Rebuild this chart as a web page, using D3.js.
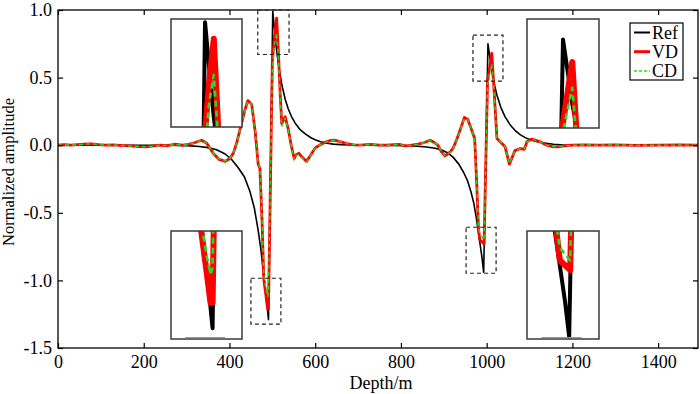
<!DOCTYPE html>
<html>
<head>
<meta charset="utf-8">
<script src="https://cdn.jsdelivr.net/npm/d3@7"></script>
<style>
  body { margin: 0; background: #fff; }
  svg { display: block; }
</style>
</head>
<body>
<script>
// Reference (Ref) trace
const refDepth = [0, 100, 200, 260, 300, 330, 350, 370, 390, 405, 420, 435, 448, 458, 467, 474, 480, 486, 491,
  501, 505, 510, 516, 522, 530, 537, 545, 553, 565, 576, 590, 600, 611, 621, 642, 660, 690, 720,
  780, 830, 860, 880, 895, 910, 922, 935, 946, 955, 963, 970, 976, 980, 985, 989, 993,
  1003, 1008, 1012, 1018, 1024, 1033, 1043, 1055, 1066, 1078, 1090, 1100, 1113, 1130, 1156, 1180, 1220, 1300, 1400, 1493];
const refAmp = [0, 0, 0, 0, -0.003, -0.01, -0.018, -0.033, -0.065, -0.105, -0.165, -0.235, -0.345, -0.465, -0.63, -0.79, -0.97, -1.13, -1.29,
  0.99, 0.86, 0.70, 0.56, 0.45, 0.34, 0.27, 0.21, 0.165, 0.115, 0.085, 0.055, 0.04, 0.027, 0.018, 0.008, 0.004, 0.001, 0,
  -0.002, -0.006, -0.013, -0.022, -0.035, -0.058, -0.09, -0.14, -0.2, -0.26, -0.34, -0.43, -0.54, -0.63, -0.74, -0.83, -0.94,
  0.75, 0.64, 0.55, 0.45, 0.37, 0.28, 0.21, 0.15, 0.11, 0.078, 0.056, 0.043, 0.03, 0.018, 0.007, 0.002, 0, 0, 0, 0];

// VD and CD traces share the same depth samples
const vdDepth = [0, 15, 30, 45, 62, 78, 95, 112, 130, 150, 170, 190, 205, 220, 238, 255, 272, 290, 305, 320, 335, 347,
  362, 376, 390, 400, 409, 418, 428, 436, 443, 452, 460, 467, 471, 476, 480, 485, 489, 491,
  500, 505, 510, 514, 518, 522, 530, 537, 544, 551, 556, 562, 570, 580, 590, 600, 610, 621, 635, 645, 660, 674, 690,
  705, 720, 735, 750, 767, 785, 798, 812, 825, 840, 855, 868, 878, 886, 895, 903, 915, 922, 930, 940, 948, 956, 963, 972,
  977, 981, 984, 994, 1002, 1012, 1016, 1024, 1035, 1043, 1053, 1066, 1078, 1088, 1094, 1105, 1113, 1125, 1140, 1156,
  1170, 1185, 1200, 1230, 1260, 1300, 1350, 1400, 1450, 1493];
const vdAmp = [0, 0.004, 0, 0.004, 0.008, 0.010, 0.004, 0, 0.003, -0.003, -0.005, -0.010, -0.012, -0.007, 0, -0.004, 0.007, 0, 0.006, 0.020, 0.037, 0.015,
  -0.060, -0.105, -0.120, -0.100, -0.060, 0.030, 0.160, 0.260, 0.330, 0.300, 0.100, -0.140, -0.170, -0.560, -0.990, -1.110, -1.210, -1.210,
  0.620, 0.800, 0.940, 0.700, 0.400, 0.160, 0.210, 0.120, 0, -0.100, -0.070, -0.060, -0.090, -0.120, -0.070, -0.020, 0, 0.020, 0.035, 0.037, 0.025, 0.012, 0.003,
  0, 0.004, 0.005, 0, 0, 0.004, 0.005, -0.005, 0, 0.008, 0.020, 0.037, 0.020, 0, -0.050, -0.080, -0.050, -0.020, 0.040, 0.130, 0.205, 0.190, 0.130, 0.050,
  -0.300, -0.620, -0.700, -0.730, 0.470, 0.680, 0.470, 0.050, 0.015, -0.012, -0.140, -0.040, -0.025, -0.030, 0.025, 0.045, 0.037, 0.025, 0, -0.012,
  -0.010, -0.003, 0, 0.003, 0, 0.002, -0.002, 0, 0.002, 0];
const cdAmp = [0, 0.003, 0.001, 0.004, 0.007, 0.010, 0.005, 0, 0.002, -0.003, -0.006, -0.009, -0.012, -0.008, 0, -0.003, 0.006, 0, 0.005, 0.019, 0.035, 0.014,
  -0.058, -0.103, -0.118, -0.100, -0.062, 0.028, 0.155, 0.255, 0.325, 0.300, 0.105, -0.135, -0.165, -0.540, -0.960, -1.060, -1.120, -1.100,
  0.560, 0.740, 0.830, 0.660, 0.380, 0.140, 0.200, 0.115, -0.005, -0.110, -0.075, -0.070, -0.095, -0.125, -0.072, -0.022, 0, 0.018, 0.034, 0.037, 0.026, 0.012, 0.004,
  0, 0.003, 0.005, 0.001, 0, 0.003, 0.005, -0.004, 0, 0.007, 0.019, 0.035, 0.021, 0.002, -0.048, -0.078, -0.052, -0.020, 0.038, 0.125, 0.200, 0.188, 0.128, 0.048,
  -0.290, -0.600, -0.660, -0.700, 0.450, 0.600, 0.450, 0.055, 0.016, -0.010, -0.135, -0.042, -0.026, -0.028, 0.022, 0.042, 0.036, 0.024, 0.001, -0.010,
  -0.009, -0.003, 0, 0.002, 0, 0.002, -0.001, 0, 0.001, 0];

const xTicks = [0, 200, 400, 600, 800, 1000, 1200, 1400];
const yTicks = [-1.5, -1.0, -0.5, 0.0, 0.5, 1.0];

// zoom windows: [depth0, depth1, amp0, amp1] and the inset box they are blown up into
const zoomWindows = [
  { win: [466, 539, 0.671, 1.0],    box: [171, 19, 242, 127] },
  { win: [968, 1038, 0.474, 0.814], box: [527, 19, 599, 128] },
  { win: [450, 520, -1.324, -0.984], box: [171, 231, 242, 339] },
  { win: [952, 1022, -0.947, -0.607], box: [527, 231, 599, 339] }
];

const series = [
  { name: "Ref", pts: refDepth.map((d, i) => [d, refAmp[i]]), color: "#000", w: 1.6, dash: null, wi: 4, dashi: null },
  { name: "VD", pts: vdDepth.map((d, i) => [d, vdAmp[i]]), color: "#ff0000", w: 2.8, dash: null, wi: 6, dashi: null },
  { name: "CD", pts: vdDepth.map((d, i) => [d, cdAmp[i]]), color: "#22dd22", w: 1.4, dash: "4,3", wi: 2.6, dashi: "6,4" }
];

const W = 700, H = 394;
const pL = 58, pR = 698, pT = 10, pB = 348;
const font = "'Liberation Serif', 'Times New Roman', serif";

const svg = d3.select("body").append("svg").attr("width", W).attr("height", H);

const x = d3.scaleLinear().domain([0, 1493]).range([pL, pR]);
const y = d3.scaleLinear().domain([-1.5, 1.0]).range([pB, pT]);

const defs = svg.append("defs");
defs.append("clipPath").attr("id", "plotclip")
  .append("rect").attr("x", pL).attr("y", pT).attr("width", pR - pL).attr("height", pB - pT);

// main curves
const line = d3.line().x(d => x(d[0])).y(d => y(d[1]));
const curves = svg.append("g").attr("clip-path", "url(#plotclip)");
series.forEach(s => {
  curves.append("path")
    .attr("d", line(s.pts))
    .attr("fill", "none")
    .attr("stroke", s.color)
    .attr("stroke-width", s.w)
    .attr("stroke-linejoin", "round")
    .attr("stroke-dasharray", s.dash);
});

// axes with inward ticks on all sides
function styleAxis(g) {
  g.attr("font-family", font).attr("font-size", 18);
  g.select(".domain").remove();
  g.selectAll("line").attr("stroke", "#000").attr("stroke-width", 1.2);
  g.selectAll("text").attr("fill", "#000");
}
svg.append("g").attr("transform", `translate(0,${pB})`)
  .call(d3.axisBottom(x).tickValues(xTicks).tickSizeInner(-5).tickSizeOuter(0).tickPadding(7).tickFormat(d3.format("d")))
  .call(styleAxis);
svg.append("g").attr("transform", `translate(0,${pT})`)
  .call(d3.axisTop(x).tickValues(xTicks).tickSizeInner(-5).tickSizeOuter(0).tickFormat(""))
  .call(styleAxis);
svg.append("g").attr("transform", `translate(${pL},0)`)
  .call(d3.axisLeft(y).tickValues(yTicks).tickSizeInner(-5).tickSizeOuter(0).tickPadding(6).tickFormat(d => d.toFixed(1)))
  .call(styleAxis);
svg.append("g").attr("transform", `translate(${pR},0)`)
  .call(d3.axisRight(y).tickValues(yTicks).tickSizeInner(-5).tickSizeOuter(0).tickFormat(""))
  .call(styleAxis);

svg.append("rect")
  .attr("x", pL).attr("y", pT).attr("width", pR - pL).attr("height", pB - pT)
  .attr("fill", "none").attr("stroke", "#000").attr("stroke-width", 1.3);

// axis titles
svg.append("text")
  .attr("x", 381).attr("y", 389)
  .attr("text-anchor", "middle")
  .attr("font-family", font).attr("font-size", 18)
  .text("Depth/m");
svg.append("text")
  .attr("transform", "translate(14,172) rotate(-90)")
  .attr("text-anchor", "middle")
  .attr("font-family", font).attr("font-size", 16.5)
  .text("Normalized amplitude");

// dashed zoom windows and their insets
zoomWindows.forEach((z, i) => {
  const [d0, d1, a0, a1] = z.win;
  svg.append("rect")
    .attr("x", x(d0)).attr("y", y(a1))
    .attr("width", x(d1) - x(d0)).attr("height", y(a0) - y(a1))
    .attr("fill", "none").attr("stroke", "#222").attr("stroke-width", 1.2)
    .attr("stroke-dasharray", "4,3");

  const [bx0, by0, bx1, by1] = z.box;
  const xi = d3.scaleLinear().domain([d0, d1]).range([bx0, bx1]);
  const yi = d3.scaleLinear().domain([a0, a1]).range([by1, by0]);
  const id = "inset" + i;
  defs.append("clipPath").attr("id", id)
    .append("rect").attr("x", bx0).attr("y", by0).attr("width", bx1 - bx0).attr("height", by1 - by0);

  svg.append("rect")
    .attr("x", bx0).attr("y", by0).attr("width", bx1 - bx0).attr("height", by1 - by0)
    .attr("fill", "#fff");

  const li = d3.line().x(d => xi(d[0])).y(d => yi(d[1]));
  const gi = svg.append("g").attr("clip-path", `url(#${id})`);
  series.forEach(s => {
    gi.append("path")
      .attr("d", li(s.pts))
      .attr("fill", "none")
      .attr("stroke", s.color)
      .attr("stroke-width", s.wi)
      .attr("stroke-linejoin", "round")
      .attr("stroke-dasharray", s.dashi);
  });

  // faint baseline seen along the bottom of the lower insets
  if (a1 < 0) {
    svg.append("line")
      .attr("x1", bx0 + (bx1 - bx0) * 0.2).attr("x2", bx0 + (bx1 - bx0) * 0.76)
      .attr("y1", by1 - 1.5).attr("y2", by1 - 1.5)
      .attr("stroke", "#999").attr("stroke-width", 1);
  }

  svg.append("rect")
    .attr("x", bx0).attr("y", by0).attr("width", bx1 - bx0).attr("height", by1 - by0)
    .attr("fill", "none").attr("stroke", "#3a3a3a").attr("stroke-width", 1.5);
});

// legend
const lg = svg.append("g");
lg.append("rect")
  .attr("x", 630).attr("y", 23).attr("width", 53).attr("height", 57)
  .attr("fill", "#fff").attr("stroke", "#000").attr("stroke-width", 1.2);
series.forEach((s, i) => {
  const ly = 32.5 + i * 19.2;
  lg.append("line")
    .attr("x1", 634).attr("x2", 650).attr("y1", ly).attr("y2", ly)
    .attr("stroke", s.color).attr("stroke-width", s.name === "VD" ? 3 : (s.name === "Ref" ? 2 : 1.5))
    .attr("stroke-dasharray", s.name === "CD" ? "3,2" : null);
  lg.append("text")
    .attr("x", 652).attr("y", ly + 6)
    .attr("font-family", font).attr("font-size", 18)
    .text(s.name);
});
</script>
</body>
</html>
